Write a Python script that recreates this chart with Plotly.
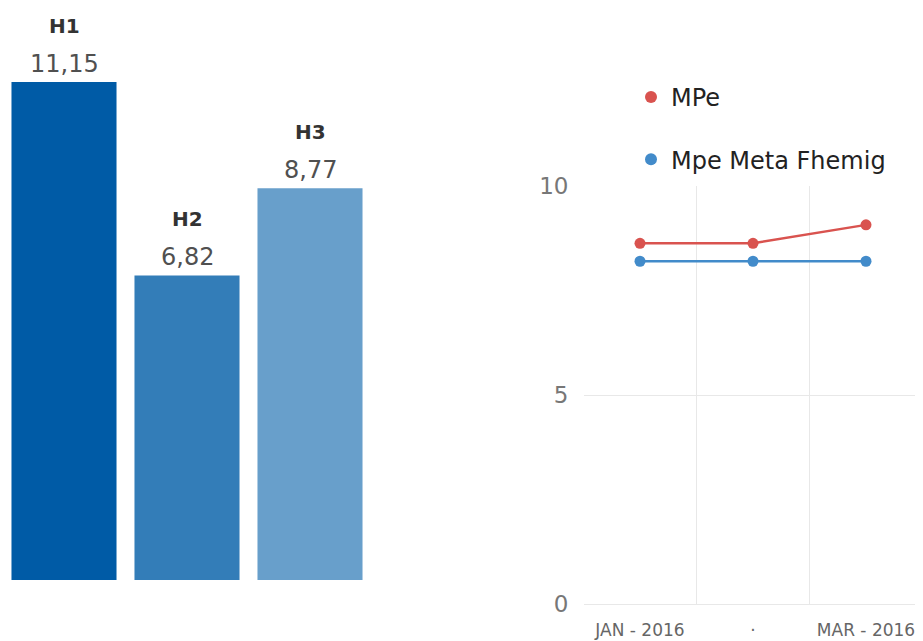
import plotly.graph_objects as go

# ---- data ----
bar_categories = ["H1", "H2", "H3"]
bar_values = [11.15, 6.82, 8.77]
bar_colors = ["#005ba6", "#337db8", "#689fcb"]

months = ["JAN - 2016", "·", "MAR - 2016"]
mpe_values = [8.63, 8.63, 9.07]
meta_values = [8.2, 8.2, 8.2]
series_names = ["MPe", "Mpe Meta Fhemig"]
series_colors = ["#d9534f", "#428bca"]

FONT = "DejaVu Sans"
W, H = 923, 641
OFF = 8  # page body margin


def fx(px):
    return min(max((px - OFF) / W, 0), 1)


def fy(py):
    return min(max(1 - (py - OFF) / H, 0), 1)


fig = go.Figure()

# Left bar chart
fig.add_trace(go.Bar(
    x=bar_categories, y=bar_values,
    marker=dict(color=bar_colors, line=dict(width=0)),
    showlegend=False, hoverinfo="skip",
    xaxis="x", yaxis="y",
))

annotations = []
for cat, val in zip(bar_categories, bar_values):
    annotations.append(dict(
        x=cat, y=val, xref="x", yref="y", text=f"{val:.2f}".replace(".", ","),
        showarrow=False, yanchor="middle", yshift=18,
        font=dict(family=FONT, size=24, color="#505050"),
    ))
    annotations.append(dict(
        x=cat, y=val, xref="x", yref="y", text=f"<b>{cat}</b>",
        showarrow=False, yanchor="middle", yshift=56,
        font=dict(family=FONT, size=20, color="#333333"),
    ))

# Right line chart
for name, vals, col, grp in zip(series_names, [mpe_values, meta_values], series_colors, ["a", "b"]):
    fig.add_trace(go.Scatter(
        x=months, y=vals, mode="lines", name=name,
        line=dict(color=col, width=2.5), showlegend=False,
        legendgroup=grp, xaxis="x2", yaxis="y2", hoverinfo="skip",
    ))
    fig.add_trace(go.Scatter(
        x=months, y=vals, mode="markers", name=name,
        marker=dict(color=col, size=11), showlegend=True,
        legendgroup=grp, xaxis="x2", yaxis="y2", hoverinfo="skip",
    ))

band = 123.0
left_end = 371.5 - OFF  # figure px of domain end
first_center = 64 - OFF

band2 = 113.0
right_start = 583.5 - OFF
right_first = 640 - OFF
fig.update_layout(
    width=W, height=H,
    margin=dict(l=0, r=0, t=0, b=0, autoexpand=False),
    paper_bgcolor="white", plot_bgcolor="white",
    font=dict(family=FONT),
    bargap=0.146,
    xaxis=dict(domain=[0, left_end / W], visible=False,
               range=[-first_center / band, (left_end - first_center) / band]),
    yaxis=dict(domain=[fy(580), fy(82)], visible=False, range=[0, 11.15]),
    xaxis2=dict(domain=[right_start / W, 1], anchor="y2", type="category",
                range=[(right_start - right_first) / band2, (W - right_first) / band2],
                tickson="boundaries", showgrid=True,
                gridcolor="#e8e8e8", gridwidth=1, showline=False, ticks="",
                tickfont=dict(family=FONT, size=17, color="#666666"),
                ticklabelstandoff=14, automargin=False),
    yaxis2=dict(domain=[fy(604), fy(186)], anchor="x2",
                range=[0, 10], tickvals=[0, 5, 10], showgrid=True,
                gridcolor="#e8e8e8", zeroline=True, zerolinecolor="#e8e8e8",
                zerolinewidth=1, showline=False, ticks="",
                tickfont=dict(family=FONT, size=23, color="#777777"),
                ticklabelstandoff=14, automargin=False),
    legend=dict(x=fx(631), y=fy(75), xanchor="left", yanchor="top",
                font=dict(family=FONT, size=24, color="#222222"),
                tracegroupgap=28, bgcolor="rgba(0,0,0,0)",
                itemsizing="constant"),
    annotations=annotations,
)

fig.write_html("out.html")
